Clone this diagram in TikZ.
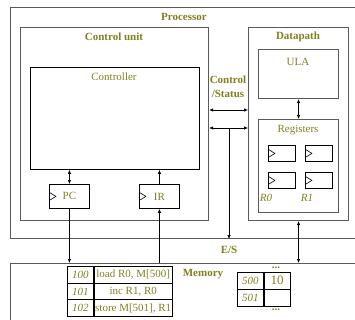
\documentclass[tikz,border=0pt]{standalone}
\usepackage{fontspec}
\setmainfont{Liberation Serif}
\usetikzlibrary{arrows.meta}
\definecolor{labeltext}{HTML}{808020}
\definecolor{boxline}{HTML}{5A5A5A}

\begin{document}
\fontsize{11}{13.5}\selectfont
\begin{tikzpicture}[
  x=1pt, y=-1pt,
  >={Latex[length=4pt,width=3.4pt]},
  frame/.style={draw=boxline, line width=1.1pt, inner sep=0pt, anchor=north west},
  block/.style 2 args={frame, minimum width=#1pt, minimum height=#2pt},
  thinblock/.style 2 args={block={#1}{#2}, draw=black, line width=0.8pt},
  clocked/.style={path picture={
    \draw[black, line width=0.6pt] ([yshift=4pt]path picture bounding box.west)
      -- ([xshift=6.5pt]path picture bounding box.west)
      -- ([yshift=-4pt]path picture bounding box.west);}},
  title/.style={font=\bfseries, text=labeltext, inner sep=0pt},
  lbl/.style={text=labeltext, inner sep=0pt},
  cell/.style 2 args={draw=black, line width=0.8pt, minimum width=#1pt, minimum height=#2pt,
    inner sep=0pt, anchor=north west, text=labeltext},
  arrow/.style={->, draw=black, line width=0.6pt},
  dblarrow/.style={<->, draw=black, line width=0.6pt}
]
\clip (0,0) rectangle (355,320);

% outer frames
\node[block={360}{231}] (processor) at (10,7) {};
\node[title] at (184,17) {Processor};
\node[block={360}{80}] (memory) at (10,263) {};
\node[title] at (203,274) {Memory};

% control unit
\node[block={188}{193}] (cu) at (20,27) {};
\node[title] at (114,37) {Control unit};
\node[thinblock={169}{102}] (ctrl) at (30,67) {};
\node[lbl] at (114,77) {Controller};
\node[thinblock={40}{24}, clocked] (pc) at (49,184) {};
\node[lbl] at (pc.center) {PC};
\node[thinblock={40}{24}, clocked] (ir) at (139,184) {};
\node[lbl] at (ir.center) {IR};

% datapath
\node[block={100}{193}] (dp) at (248,27) {};
\node[title] at (298,37) {Datapath};
\node[block={80}{49}] (ula) at (258,49) {};
\node[lbl] at (298,62) {ULA};
\node[block={80}{93}] (regs) at (258,119) {};
\node[lbl] at (298,130) {Registers};
\foreach \cx/\cy [count=\k] in {268/145, 305/145, 268/172, 305/172}
  \node[thinblock={27}{16}, clocked] (reg\k) at (\cx,\cy) {};
\node[lbl, font=\itshape] at (266,198) {R0};
\node[lbl, font=\itshape] at (307,198) {R1};

% buses
\node[title, align=center] (cslabel) at (228,87) {Control\\/Status};
\coordinate (cs1w) at (cu.east |- 0,110);
\coordinate (cs1e) at (dp.west |- 0,110);
\coordinate (cs2w) at (cu.east |- 0,128);
\coordinate (cs2e) at (dp.west |- 0,128);
\coordinate (estap) at (229,128);
\draw[dblarrow] (cs1w) -- (cs1e);
\draw[dblarrow] (cs2w) -- (cs2e);
\draw[arrow] (estap) -- (estap |- processor.south);
\node[title] (eslabel) at (229,250) {E/S};

\draw[dblarrow] (pc.north) -- (pc.north |- ctrl.south);
\draw[arrow] (ir.north) -- (ir.north |- ctrl.south);
\draw[arrow] (pc.south) -- (pc.south |- memory.north);
\draw[arrow] (ir.south |- memory.north) -- (ir.south);
\draw[dblarrow] (ula.south) -- (regs.north);
\draw[dblarrow] (dp.south) -- (dp.south |- memory.north);

% memory contents
\foreach \a/\t [count=\i] in {100/{load R0, M[500]}, 101/{inc R1, R0}, 102/{store M[501], R1}} {
  \node[cell={26}{16.7}, font=\itshape] (addr\i) at (67,{266+(\i-1)*16.7}) {\a};
  \node[cell={78}{16.7}] (instr\i) at (addr\i.north east) {\t};
}
\node[cell={26}{16.5}, font=\itshape] (addr500) at (237,272) {500};
\node[cell={26}{16.5}, font=\fontsize{13}{15}\selectfont] (val500) at (addr500.north east) {10};
\node[cell={26}{16.5}, font=\itshape] (addr501) at (addr500.south west) {501};
\node[cell={26}{16.5}] (val501) at (addr501.north east) {};
\node[lbl, font=\bfseries, anchor=base] (dotsdown) at (276,310) {...};
\node[lbl, font=\bfseries, anchor=base] (dotsup) at (276,268.5) {...};
\end{tikzpicture}
\end{document}
